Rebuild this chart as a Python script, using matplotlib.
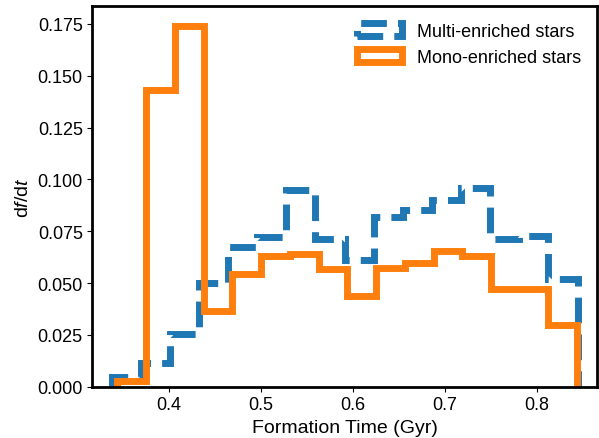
import numpy as np
import matplotlib
matplotlib.use("Agg")
import matplotlib.pyplot as plt

plt.rcParams['font.family'] = ['Liberation Sans', 'DejaVu Sans']
plt.rcParams['mathtext.fontset'] = 'custom'
plt.rcParams['mathtext.it'] = 'Liberation Sans:italic'
plt.rcParams['mathtext.rm'] = 'Liberation Sans'

# bin values (fraction of stars per bin)
multi_vals = [0.0045, 0.0113, 0.0254, 0.0500, 0.0674, 0.0722, 0.0949, 0.0713,
              0.0611, 0.0819, 0.0853, 0.0901, 0.0959, 0.0713, 0.0727, 0.0520]
mono_vals = [0.0026, 0.1429, 0.1742, 0.0367, 0.0544, 0.0632, 0.0640, 0.0568,
             0.0439, 0.0573, 0.0597, 0.0655, 0.0631, 0.0471, 0.0471, 0.0299]

# bin edges (Gyr)
multi_lo, multi_hi = 0.3376, 0.8445
mono_lo, mono_hi = 0.3440, 0.8440
multi_edges = np.linspace(multi_lo, multi_hi, len(multi_vals) + 1)
mono_edges = np.linspace(mono_lo, mono_hi, len(mono_vals) + 1)

fig = plt.figure(figsize=(5.99, 4.39), dpi=100)
ax = fig.add_axes([0.1544, 0.1169, 0.9967 - 0.1544, 0.9834 - 0.1169])

ax.hist(multi_edges[:-1], bins=multi_edges, weights=multi_vals, histtype='step',
        lw=5, ls='--', color='C0', label='Multi-enriched stars')
ax.hist(mono_edges[:-1], bins=mono_edges, weights=mono_vals, histtype='step',
        lw=5, color='C1', label='Mono-enriched stars')

ax.set_xlim(0.3168, 0.8656)
ax.set_ylim(0, 0.1835)
ax.set_xticks([0.4, 0.5, 0.6, 0.7, 0.8])
ax.set_yticks(np.arange(0, 0.176, 0.025))
ax.yaxis.set_major_formatter(matplotlib.ticker.FormatStrFormatter('%.3f'))
ax.tick_params(labelsize=13)
for sp in ax.spines.values():
    sp.set_linewidth(2)

ax.set_xlabel('Formation Time (Gyr)', fontsize=14)
ax.set_ylabel(r'd$f$/d$t$', fontsize=14)
ax.legend(loc='upper right', frameon=False, fontsize=13, handlelength=2.5)

fig.savefig('out.png', dpi=100)
